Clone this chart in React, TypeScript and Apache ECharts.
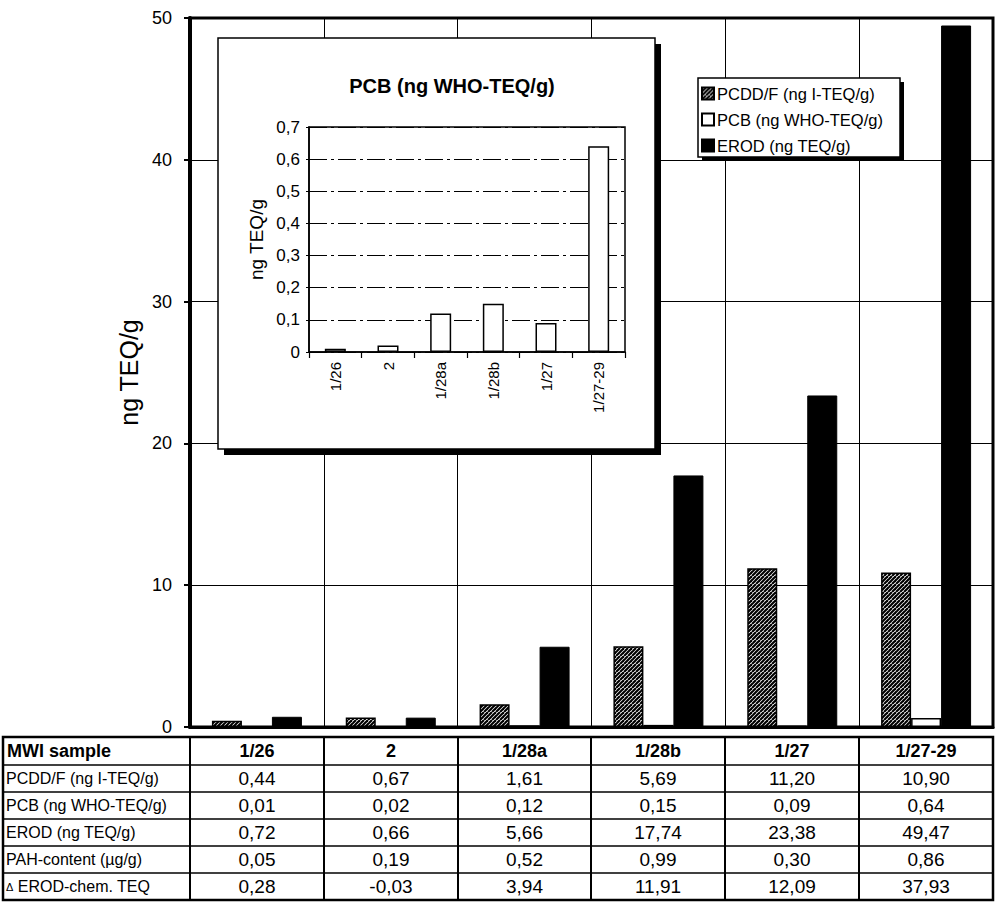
import React, { useEffect, useRef } from "react";
import * as echarts from "echarts";

const categories = ["1/26", "2", "1/28a", "1/28b", "1/27", "1/27-29"];
const pcddValues = [0.44, 0.67, 1.61, 5.69, 11.2, 10.9];
const pcbValues = [0.01, 0.02, 0.12, 0.15, 0.09, 0.64];
const erodValues = [0.72, 0.66, 5.66, 17.74, 23.38, 49.47];
const pahValues = [0.05, 0.19, 0.52, 0.99, 0.3, 0.86];
const deltaValues = [0.28, -0.03, 3.94, 11.91, 12.09, 37.93];
const seriesNames = ["PCDD/F (ng I-TEQ/g)", "PCB (ng WHO-TEQ/g)", "EROD (ng TEQ/g)"];
const tableHeader = "MWI sample";
const tableRowLabels = [
  "PCDD/F (ng I-TEQ/g)",
  "PCB (ng WHO-TEQ/g)",
  "EROD (ng TEQ/g)",
  "PAH-content (µg/g)",
  "{d|Δ} EROD-chem. TEQ",
];
const mainAxis = { min: 0, max: 50, interval: 10 };
const insetAxis = { min: 0, max: 0.7, interval: 0.1 };
const insetTitle = "PCB (ng WHO-TEQ/g)";
const yAxisName = "ng TEQ/g";

const FONT = "'Liberation Sans', Arial, sans-serif";

function makeHatch() {
  const c = document.createElement("canvas");
  c.width = 8;
  c.height = 8;
  const ctx = c.getContext("2d")!;
  ctx.fillStyle = "#ffffff";
  ctx.fillRect(0, 0, 8, 8);
  ctx.strokeStyle = "#000000";
  ctx.lineWidth = 2.2;
  for (let k = -8; k <= 12; k += 4) {
    ctx.beginPath();
    ctx.moveTo(k, 8);
    ctx.lineTo(k + 8, 0);
    ctx.stroke();
  }
  return c;
}

const fmt = (v: number) => v.toFixed(2).replace(".", ",");

export default function App() {
  const ref = useRef<HTMLDivElement>(null);
  useEffect(() => {
    document.body.style.margin = "0";
    const chart = echarts.init(ref.current!, null, { renderer: "svg" });
    const hatch = { image: makeHatch(), repeat: "repeat" } as any;

    // table geometry
    const colX = [3, 190, 324, 458, 591, 725, 859, 993];
    const rowY = [737, 765, 792, 819, 846, 873, 900];
    const tableRows = [pcddValues, pcbValues, erodValues, pahValues, deltaValues];
    const tableEls: any[] = [];
    tableEls.push({
      type: "rect",
      z: 30,
      shape: { x: colX[0], y: rowY[0], width: colX[7] - colX[0], height: rowY[6] - rowY[0] },
      style: { fill: "#fff", stroke: "#000", lineWidth: 2.5 },
    });
    for (let i = 1; i < colX.length - 1; i++) {
      tableEls.push({
        type: "line",
        z: 31,
        shape: { x1: colX[i], y1: rowY[0], x2: colX[i], y2: rowY[6] },
        style: { stroke: "#000", lineWidth: 2 },
      });
    }
    for (let j = 1; j < rowY.length - 1; j++) {
      tableEls.push({
        type: "line",
        z: 31,
        shape: { x1: colX[0], y1: rowY[j], x2: colX[7], y2: rowY[j] },
        style: { stroke: "#000", lineWidth: 1.5 },
      });
    }
    tableEls.push({
      type: "text",
      z: 32,
      x: colX[0] + 4,
      y: (rowY[0] + rowY[1]) / 2,
      style: { text: tableHeader, font: `bold 18px ${FONT}`, fill: "#000", textVerticalAlign: "middle" },
    });
    categories.forEach((c, i) => {
      tableEls.push({
        type: "text",
        z: 32,
        x: (colX[i + 1] + colX[i + 2]) / 2,
        y: (rowY[0] + rowY[1]) / 2,
        style: { text: c, font: `bold 18px ${FONT}`, fill: "#000", textAlign: "center", textVerticalAlign: "middle" },
      });
    });
    tableRowLabels.forEach((lab, r) => {
      const cy = (rowY[r + 1] + rowY[r + 2]) / 2;
      tableEls.push({
        type: "text",
        z: 32,
        x: colX[0] + 3,
        y: cy,
        style: {
          text: lab,
          font: `16px ${FONT}`,
          fill: "#000",
          textVerticalAlign: "middle",
          rich: { d: { fontSize: 11, fontFamily: FONT, fill: "#000" } },
        },
      });
      tableRows[r].forEach((v, i) => {
        tableEls.push({
          type: "text",
          z: 32,
          x: (colX[i + 1] + colX[i + 2]) / 2,
          y: cy,
          style: { text: fmt(v), font: `19px ${FONT}`, fill: "#000", textAlign: "center", textVerticalAlign: "middle" },
        });
      });
    });

    const option: any = {
      animation: false,
      textStyle: { fontFamily: FONT },
      grid: [
        { left: 190, top: 18, width: 803, height: 709, show: true, borderColor: "#000", borderWidth: 3, backgroundColor: "#fff", z: 0 },
        { left: 309, top: 127, width: 316, height: 225, show: true, borderColor: "#000", borderWidth: 1.5, backgroundColor: "transparent", z: 8 },
      ],
      xAxis: [
        {
          type: "category",
          gridIndex: 0,
          data: categories,
          axisLabel: { show: false },
          axisTick: { show: false },
          axisLine: { show: true, lineStyle: { color: "#000", width: 3 } },
          splitLine: { show: true, lineStyle: { color: "#000", width: 1 } },
        },
        {
          type: "category",
          gridIndex: 1,
          data: categories,
          z: 10,
          axisLabel: { show: true, rotate: 90, fontSize: 15, color: "#000", margin: 10, fontFamily: FONT },
          axisTick: { show: true, length: 6, lineStyle: { color: "#000", width: 1.2 } },
          axisLine: { show: true, lineStyle: { color: "#000", width: 1.5 } },
          splitLine: { show: false },
        },
      ],
      yAxis: [
        {
          type: "value",
          gridIndex: 0,
          min: mainAxis.min,
          max: mainAxis.max,
          interval: mainAxis.interval,
          name: yAxisName,
          nameLocation: "middle",
          nameGap: 46,
          nameTextStyle: { fontSize: 25, color: "#000", fontFamily: FONT },
          axisLine: { show: true, lineStyle: { color: "#000", width: 4 } },
          axisTick: { show: true, length: 6, lineStyle: { color: "#000", width: 2 } },
          axisLabel: { fontSize: 18, color: "#000", margin: 18, fontFamily: FONT },
          splitLine: { show: true, lineStyle: { color: "#000", width: 1 } },
        },
        {
          type: "value",
          gridIndex: 1,
          z: 10,
          min: insetAxis.min,
          max: insetAxis.max,
          interval: insetAxis.interval,
          name: yAxisName,
          nameLocation: "middle",
          nameGap: 43,
          nameTextStyle: { fontSize: 19, color: "#000", fontFamily: FONT },
          axisLine: { show: true, lineStyle: { color: "#000", width: 1.5 } },
          axisTick: { show: true, length: 3, lineStyle: { color: "#000", width: 1 } },
          axisLabel: {
            fontSize: 17,
            color: "#000",
            margin: 9,
            fontFamily: FONT,
            formatter: (v: number) => (v === 0 ? "0" : v.toFixed(1).replace(".", ",")),
          },
          splitLine: { show: true, lineStyle: { color: "#000", width: 1, type: [18, 4, 3, 4] } },
        },
      ],
      legend: {
        z: 20,
        left: 701,
        top: 85,
        padding: 0,
        orient: "vertical",
        itemWidth: 12,
        itemHeight: 12,
        itemGap: 9,
        icon: "rect",
        data: seriesNames,
        textStyle: { fontSize: 16.5, color: "#000", fontFamily: FONT, padding: [0, 0, 0, -2] },
      },
      graphic: [
        { type: "rect", z: 5, shape: { x: 224, y: 44, width: 437, height: 411 }, style: { fill: "#000" } },
        { type: "rect", z: 6, shape: { x: 218, y: 38, width: 437, height: 411 }, style: { fill: "#fff", stroke: "#000", lineWidth: 1.5 } },
        {
          type: "text",
          z: 12,
          x: 452,
          y: 86,
          style: { text: insetTitle, font: `bold 20px ${FONT}`, fill: "#000", textAlign: "center", textVerticalAlign: "middle" },
        },
        { type: "rect", z: 14, shape: { x: 702, y: 82, width: 202, height: 79 }, style: { fill: "#000" } },
        { type: "rect", z: 15, shape: { x: 698, y: 78, width: 202, height: 79 }, style: { fill: "#fff", stroke: "#000", lineWidth: 1.5 } },
        ...tableEls,
      ],
      series: [
        {
          name: seriesNames[0],
          type: "bar",
          xAxisIndex: 0,
          yAxisIndex: 0,
          data: pcddValues,
          barWidth: 30,
          barGap: "0%",
          itemStyle: { color: hatch, borderColor: "#000", borderWidth: 1.5 },
        },
        {
          name: seriesNames[1],
          type: "bar",
          xAxisIndex: 0,
          yAxisIndex: 0,
          data: pcbValues,
          barWidth: 30,
          barGap: "0%",
          itemStyle: { color: "#fff", borderColor: "#000", borderWidth: 1.5 },
        },
        {
          name: seriesNames[2],
          type: "bar",
          xAxisIndex: 0,
          yAxisIndex: 0,
          data: erodValues,
          barWidth: 30,
          barGap: "0%",
          itemStyle: { color: "#000", borderColor: "#000", borderWidth: 1 },
        },
        {
          name: "PCB inset",
          type: "bar",
          xAxisIndex: 1,
          yAxisIndex: 1,
          z: 11,
          data: pcbValues,
          barWidth: 21,
          itemStyle: { color: "#fff", borderColor: "#000", borderWidth: 1.5 },
        },
      ],
    };
    chart.setOption(option);
    return () => chart.dispose();
  }, []);
  return <div ref={ref} style={{ width: 997, height: 905 }} />;
}
